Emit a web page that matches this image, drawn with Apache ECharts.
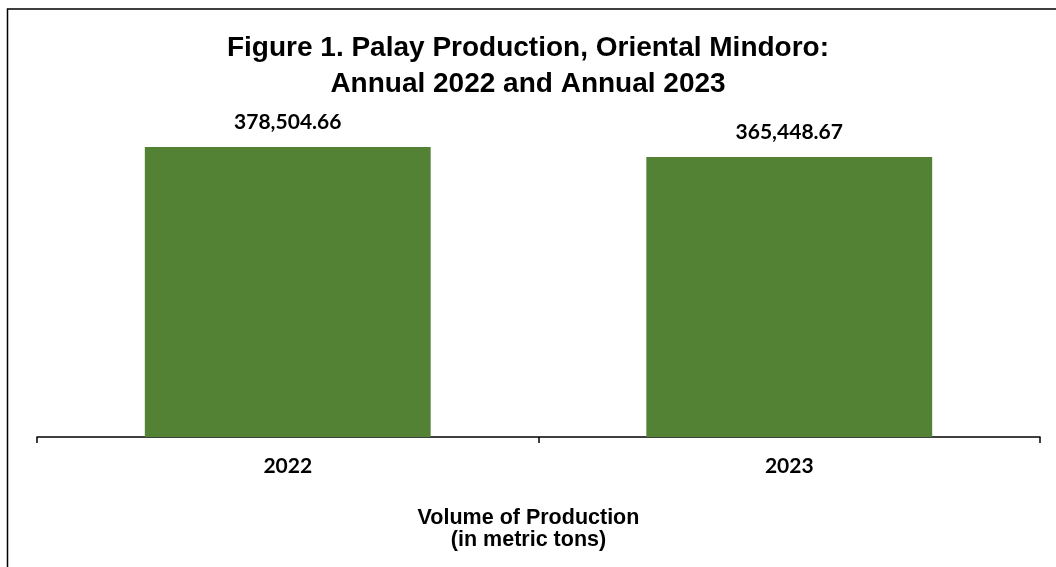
<!DOCTYPE html>
<html><head><meta charset="utf-8">
<script src="https://cdn.jsdelivr.net/npm/echarts@6/dist/echarts.min.js"></script>
<style>html,body{margin:0;padding:0;background:#fff}#c{width:1056px;height:567px}</style>
</head><body><div id="c"></div>
<script>
const categories = ['2022', '2023'];
const production = [378504.66, 365448.67];
const titleLines = ['Figure 1. Palay Production, Oriental Mindoro:', 'Annual 2022 and Annual 2023'];
const axisName = 'Volume of Production\n(in metric tons)';

const chart = echarts.init(document.getElementById('c'), null, {renderer: 'canvas'});
chart.setOption({
  animation: false,
  backgroundColor: '#fff',
  title: {
    text: titleLines.join('\n'),
    left: 'center', top: 25,
    textStyle: {fontFamily: 'Liberation Sans', fontWeight: 'bold', fontSize: 28, color: '#000', lineHeight: 36}
  },
  graphic: [{
    type: 'rect', silent: true,
    shape: {x: 7.5, y: 9, width: 1200, height: 700},
    style: {fill: 'none', stroke: '#000', lineWidth: 1.5}
  }],
  grid: {left: 37, right: 16, top: 130.5, bottom: 130},
  xAxis: {
    type: 'category', data: categories,
    axisLine: {lineStyle: {color: '#000', width: 1.5}},
    axisTick: {show: true, length: 6, lineStyle: {color: '#000', width: 1.5}},
    axisLabel: {fontFamily: 'Lato', fontWeight: 'bold', fontSize: 21, color: '#000', margin: 19},
    name: axisName, nameLocation: 'middle', nameGap: 70,
    nameTextStyle: {fontFamily: 'Liberation Sans', fontWeight: 'bold', fontSize: 21.5, color: '#000', lineHeight: 22, padding: [0, 20, 0, 0]}
  },
  yAxis: {type: 'value', min: 0, max: 400000, show: false, splitLine: {show: false}},
  series: [{
    type: 'bar', data: production, barCategoryGap: '43%',
    itemStyle: {color: '#548235'},
    label: {
      show: true, position: 'top', distance: 14,
      fontFamily: 'Lato', fontWeight: 'bold', fontSize: 21, color: '#000',
      formatter: p => p.value.toLocaleString('en-US', {minimumFractionDigits: 2, maximumFractionDigits: 2})
    }
  }]
});
</script></body></html>
